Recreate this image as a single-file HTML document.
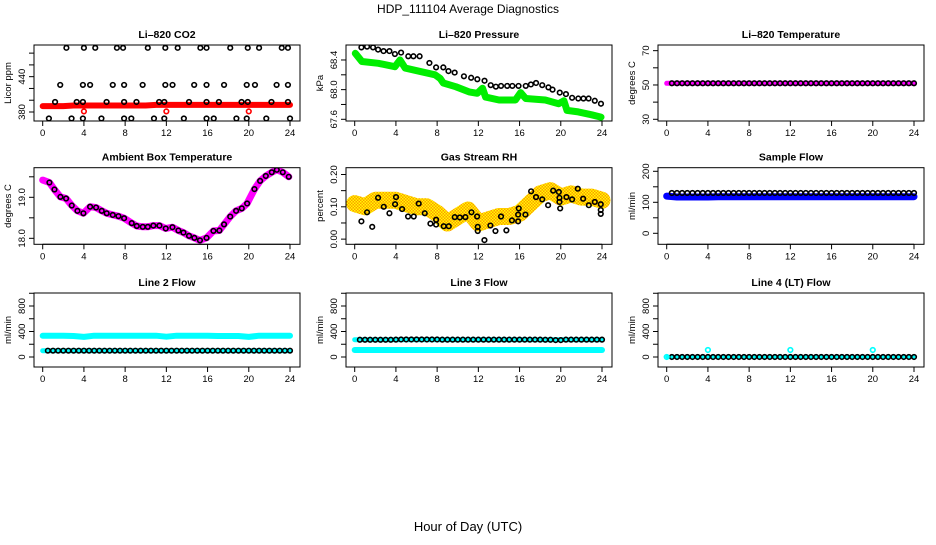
<!DOCTYPE html>
<html><head><meta charset="utf-8">
<style>
html,body{margin:0;padding:0;background:#fff;}
svg text{font-family:"Liberation Sans",Arial,sans-serif;}
</style></head>
<body>
<svg id="chart" xmlns="http://www.w3.org/2000/svg" width="936" height="540" viewBox="0 0 936 540">
<defs>
<pattern id="rhpat" width="3" height="3" patternUnits="userSpaceOnUse">
<rect width="3" height="3" fill="#ff9900"/>
<rect x="0" y="0" width="1.5" height="1.5" fill="#ffff00"/>
<rect x="1.5" y="1.5" width="1.5" height="1.5" fill="#ffff00"/>
</pattern>
</defs>
<text x="468" y="13" font-size="12" text-anchor="middle">HDP_111104  Average Diagnostics</text>
<text x="468" y="531" font-size="13" text-anchor="middle">Hour of Day (UTC)</text>
</svg>
<script>
// ---- data ----
const xTicks = [0,4,8,12,16,20,24];
const hourly = [0,1,2,3,4,5,6,7,8,9,10,11,12,13,14,15,16,17,18,19,20,21,22,23,24];
const halfHours = [0.5,1,1.5,2,2.5,3,3.5,4,4.5,5,5.5,6,6.5,7,7.5,8,8.5,9,9.5,10,10.5,11,11.5,12,12.5,13,13.5,14,14.5,15,15.5,16,16.5,17,17.5,18,18.5,19,19.5,20,20.5,21,21.5,22,22.5,23,23.5,24];

// CO2
const co2Red = [390,390,390,391,391,391,391,391,391,391,391,392,392,392,392,392,392,392,392,392,392,392,392,392,392];
const co2RedPtHours = [4,12,20];
const co2RedPtVals = [381,381,381];
const co2BlackHours = [2.3,4.0,5.1,7.2,7.8,10.2,11.9,13.1,15.3,15.9,18.2,19.9,21.0,23.2,23.8,
 1.7,3.9,4.6,6.8,7.9,9.7,11.9,12.6,14.7,15.9,17.6,19.8,20.6,22.7,23.8,
 1.2,3.3,3.9,6.2,7.9,9.1,11.3,11.8,14.2,15.9,17.1,19.3,19.9,22.2,23.8,
 0.6,2.8,3.9,5.7,7.9,8.6,10.8,11.8,13.7,15.9,16.6,18.8,19.8,21.7,24.0];
const co2BlackVals = [489,489,489,489,489,489,489,489,489,489,489,489,489,489,489,
 426,426,426,426,426,426,426,426,426,426,426,426,426,426,426,
 397,397,397,397,397,397,397,397,397,397,397,397,397,397,397,
 369,369,369,369,369,369,369,369,369,369,369,369,369,369,369];

// Pressure
const presGreenHours = [0.06,0.7,2.3,3.9,4.4,4.9,6.5,7.8,8.3,8.6,9.8,11.1,11.9,12.4,12.7,14.0,15.6,16.1,16.6,18.5,19.8,20.3,20.6,21.7,23.0,23.9];
const presGreenVals = [68.49,68.38,68.355,68.31,68.40,68.29,68.24,68.20,68.15,68.09,68.04,67.97,67.95,68.02,67.90,67.86,67.86,67.96,67.88,67.86,67.81,67.85,67.72,67.70,67.66,67.63];
const presBlackHours = [0.65,1.2,1.78,2.27,2.8,3.37,3.9,4.5,5.2,5.7,6.3,7.25,7.9,8.6,9.1,9.7,10.6,11.3,11.9,12.6,13.2,13.7,14.2,14.8,15.3,15.9,16.6,17.1,17.6,18.2,18.8,19.2,19.9,20.5,21.1,21.7,22.2,22.7,23.3,23.9];
const presBlackVals = [68.57,68.58,68.57,68.54,68.52,68.52,68.48,68.50,68.45,68.45,68.45,68.36,68.30,68.30,68.25,68.23,68.18,68.16,68.14,68.12,68.06,68.04,68.05,68.05,68.05,68.05,68.05,68.07,68.09,68.06,68.03,68.00,67.96,67.94,67.89,67.88,67.88,67.88,67.85,67.81];

// Li-820 temperature
const tempMagenta = [51,51,51,51,51,51,51,51,51,51,51,51,51,51,51,51,51,51,51,51,51,51,51,51,51];
const tempBlack = [51,51,51,51,51,51,51,51,51,51,51,51,51,51,51,51,51,51,51,51,51,51,51,51,51,51,51,51,51,51,51,51,51,51,51,51,51,51,51,51,51,51,51,51,51,51,51,51];

// Ambient box temperature
const ambHours = [0.65,1.14,1.72,2.27,2.82,3.37,3.95,4.6,5.18,5.73,6.21,6.8,7.35,7.9,8.64,9.13,9.71,10.2,10.74,11.33,11.94,12.59,13.17,13.66,14.2,14.72,15.26,15.9,16.57,17.15,17.6,18.2,18.77,19.32,19.84,20.55,21.1,21.65,22.23,22.72,23.3,23.88];
const ambVals = [19.36,19.19,19.01,18.97,18.80,18.67,18.61,18.77,18.75,18.67,18.61,18.57,18.54,18.49,18.37,18.30,18.28,18.28,18.31,18.31,18.24,18.27,18.19,18.14,18.06,18.01,17.95,18.01,18.18,18.19,18.34,18.53,18.67,18.73,18.85,19.20,19.40,19.52,19.61,19.67,19.61,19.50];
const ambBandHours = [0,0.65,1.14,1.72,2.27,2.82,3.37,3.95,4.6,5.18,5.73,6.21,6.8,7.35,7.9,8.64,9.13,9.71,10.2,10.74,11.33,11.94,12.59,13.17,13.66,14.2,14.72,15.26,15.9,16.57,17.15,17.6,18.2,18.77,19.32,19.84,20.55,21.1,21.65,22.23,22.72,23.3,23.88];
const ambBandVals = [19.42,19.36,19.19,19.01,18.97,18.80,18.67,18.61,18.77,18.75,18.67,18.61,18.57,18.54,18.49,18.37,18.30,18.28,18.28,18.31,18.31,18.24,18.27,18.19,18.14,18.06,18.01,17.95,18.01,18.18,18.19,18.34,18.53,18.67,18.73,18.85,19.20,19.40,19.52,19.61,19.67,19.61,19.50];

// Gas stream RH
const rhBand = [0.11,0.10,0.12,0.12,0.12,0.11,0.10,0.10,0.08,0.05,0.07,0.09,0.05,0.06,0.07,0.07,0.08,0.11,0.14,0.15,0.13,0.14,0.13,0.13,0.12];
const rhHours = [0.65,1.2,1.7,2.27,2.82,3.37,3.92,4.01,4.6,5.18,5.73,6.21,6.8,7.35,7.9,7.9,8.64,9.13,9.71,10.2,10.74,11.33,11.88,11.94,11.94,12.59,13.17,13.66,14.2,14.72,15.26,15.86,15.86,15.92,16.57,17.12,17.6,18.2,18.77,19.26,19.81,19.87,19.87,19.94,20.55,21.1,21.65,22.17,22.72,23.3,23.88,23.88,23.88];
const rhVals = [0.055,0.083,0.038,0.128,0.100,0.080,0.108,0.130,0.093,0.070,0.070,0.110,0.080,0.048,0.060,0.045,0.040,0.040,0.068,0.067,0.068,0.083,0.070,0.038,0.025,-0.003,0.042,0.025,0.070,0.027,0.058,0.076,0.055,0.095,0.076,0.148,0.130,0.123,0.105,0.150,0.146,0.128,0.115,0.095,0.130,0.123,0.156,0.125,0.105,0.115,0.108,0.078,0.090];

// Sample flow
const sampleBlue = [120,117,117,117,117,118,118,118,118,118,118,118,118,118,118,118,118,118,118,118,118,118,118,118,118];
const sampleBlack = [130,130,130,130,130,130,130,130,130,130,130,130,130,130,130,130,130,130,130,130,130,130,130,130,130,130,130,130,130,130,130,130,130,130,130,130,130,130,130,130,130,130,130,130,130,130,130,130];

// Line flows
const line2Cyan = [334,334,334,330,315,334,334,334,334,334,334,334,318,334,334,334,334,330,330,330,315,334,334,334,334];
const line2Black = [99,99,99,99,99,99,99,99,99,99,99,99,99,99,99,99,99,99,99,99,99,99,99,99,99,99,99,99,99,99,99,99,99,99,99,99,99,99,99,99,99,99,99,99,99,99,99,99];
const line3Cyan = [110,110,110,110,110,110,110,110,110,110,110,110,110,110,110,110,110,110,110,110,110,110,110,110,110];
const line3Black = [270,270,270,270,270,270,270,272,275,275,275,275,275,275,275,275,272,272,272,272,272,272,272,272,272,272,272,272,272,272,272,272,272,272,272,272,270,270,265,265,272,272,272,272,272,272,272,272];
const line4Cyan = [0,0,0,0,0,0,0,0,0,0,0,0,0,0,0,0,0,0,0,0,0,0,0,0,0];
const line4SpikeHours = [0,4,12,20];
const line4SpikeVals = [0,110,110,110];
const line4Black = [0,0,0,0,0,0,0,0,0,0,0,0,0,0,0,0,0,0,0,0,0,0,0,0,0,0,0,0,0,0,0,0,0,0,0,0,0,0,0,0,0,0,0,0,0,0,0,0];

// ---- drawing ----
const NS = "http://www.w3.org/2000/svg";
const svg = document.getElementById('chart');
const colL = [34,346,658], rowT = [45,167.7,293], rowB = [121,244.3,367];

function mk(tag, attrs, parent){
  const e = document.createElementNS(NS, tag);
  for (const k in attrs) e.setAttribute(k, attrs[k]);
  (parent||svg).appendChild(e);
  return e;
}

function panel(cfg){
  const L = colL[cfg.col], R = L+266, T = rowT[cfg.row], B = rowB[cfg.row];
  const g = mk('g', {});
  
  
  const [lo,hi] = cfg.ylim;
  const sx = h => L + 8.7 + h*(247.3/24);
  const sy = v => B - (v-lo)/(hi-lo)*(B-T);
  const t = mk('text', {x:(L+R)/2, y:T-7, 'font-size':10.5, 'font-weight':'bold', 'text-anchor':'middle'}, g);
  t.textContent = cfg.title;
  
  
  const xa = mk('g', {}, g);
  
  
  mk('line', {x1:sx(xTicks[0]), x2:sx(xTicks[xTicks.length-1]), y1:B, y2:B, stroke:'#000'}, xa);
  xTicks.forEach(v=>{
    mk('line', {x1:sx(v), x2:sx(v), y1:B, y2:B+5, stroke:'#000'}, xa);
    const tl = mk('text', {x:sx(v), y:B+15, 'font-size':9.5, 'text-anchor':'middle'}, xa);
    tl.textContent = v;
    
    
  });
  const ya = mk('g', {}, g);
  
  
  cfg.ticks.forEach(v=>{
    mk('line', {x1:L-5, x2:L, y1:sy(v), y2:sy(v), stroke:'#000'}, ya);
  });
  cfg.labels.forEach((v,i)=>{
    const yy = sy(v);
    const tl = mk('text', {x:L-9, y:yy, 'font-size':9.5, 'text-anchor':'middle', transform:`rotate(-90 ${L-9} ${yy})`}, ya);
    tl.textContent = cfg.labelText[i];
    
    
  });
  const yt = mk('text', {x:L-23, y:(T+B)/2, 'font-size':9.5, 'text-anchor':'middle', transform:`rotate(-90 ${L-23} ${(T+B)/2})`}, g);
  yt.textContent = cfg.ylab;
  
  
  const cid = 'clip'+cfg.col+cfg.row;
  const cp = mk('clipPath', {id:cid}, g);
  mk('rect', {x:L, y:T, width:R-L, height:B-T}, cp);
  const plot = mk('g', {'clip-path':`url(#${cid})`}, g);
  cfg.draw({plot, sx, sy});
  mk('rect', {x:L, y:T, width:R-L, height:B-T, fill:'none', stroke:'#000', 'stroke-width':1}, g);
}

function band(ctx, hs, vs, color, w, name){
  const pts = hs.map((h,i)=>ctx.sx(h).toFixed(1)+','+ctx.sy(vs[i]).toFixed(1)).join(' ');
  const p = mk('polyline', {points:pts, fill:'none', stroke:color, 'stroke-width':w, 'stroke-linejoin':'round', 'stroke-linecap':'round'}, ctx.plot);
  
  
}
function pts(ctx, hs, vs, color, name, r){
  const g = mk('g', {}, ctx.plot);
  
  
  hs.forEach((h,i)=>{
    const c = mk('circle', {cx:ctx.sx(h), cy:ctx.sy(vs[i]), r:r||2.3, fill:'none', stroke:color, 'stroke-width':1.6}, g);
    
    
  });
}

panel({name:'co2-panel', col:0, row:0, title:'Li\u2013820 CO2', ylab:'Licor ppm', ylim:[364.7,493.8],
  ticks:[380,400,420,440,460,480], labels:[380,440], labelText:['380','440'],
  draw:c=>{ band(c,hourly,co2Red,'#ff0000',6,'co2-red-band'); pts(c,co2RedPtHours,co2RedPtVals,'#ff0000','co2-red-points'); pts(c,co2BlackHours,co2BlackVals,'#000','co2-black-points'); }});
panel({name:'pressure-panel', col:1, row:0, title:'Li\u2013820 Pressure', ylab:'kPa', ylim:[67.577,68.602],
  ticks:[67.6,67.8,68.0,68.2,68.4], labels:[67.6,68.0,68.4], labelText:['67.6','68.0','68.4'],
  draw:c=>{ band(c,presGreenHours,presGreenVals,'#00ee00',7,'pressure-green-band'); pts(c,presBlackHours,presBlackVals,'#000','pressure-black-points'); }});
panel({name:'temperature-panel', col:2, row:0, title:'Li\u2013820 Temperature', ylab:'degrees C', ylim:[29.0,73.3],
  ticks:[30,40,50,60,70], labels:[30,50,70], labelText:['30','50','70'],
  draw:c=>{ band(c,hourly,tempMagenta,'#ff00ff',5,'temperature-magenta-band'); pts(c,halfHours,tempBlack,'#000','temperature-black-points'); }});
panel({name:'ambient-panel', col:0, row:1, title:'Ambient Box Temperature', ylab:'degrees C', ylim:[17.854,19.722],
  ticks:[18.0,18.5,19.0,19.5], labels:[18.0,19.0], labelText:['18.0','19.0'],
  draw:c=>{ band(c,ambBandHours,ambBandVals,'#ff00ff',7,'ambient-magenta-band'); pts(c,ambHours,ambVals,'#000','ambient-black-points'); }});
panel({name:'rh-panel', col:1, row:1, title:'Gas Stream RH', ylab:'percent', ylim:[-0.016,0.221],
  ticks:[0,0.05,0.10,0.15,0.20], labels:[0,0.10,0.20], labelText:['0.00','0.10','0.20'],
  draw:c=>{ band(c,hourly,rhBand,'url(#rhpat)',17,'rh-orange-band'); pts(c,rhHours,rhVals,'#000','rh-black-points'); }});
panel({name:'sample-flow-panel', col:2, row:1, title:'Sample Flow', ylab:'ml/min', ylim:[-35.5,211.6],
  ticks:[0,50,100,150,200], labels:[0,100,200], labelText:['0','100','200'],
  draw:c=>{ band(c,hourly,sampleBlue,'#0000ff',7,'sample-blue-band'); pts(c,halfHours,sampleBlack,'#000','sample-black-points'); }});
const flowCfg = {ylim:[-157,1004], ticks:[0,200,400,600,800,1000], labels:[0,400,800], labelText:['0','400','800'], ylab:'ml/min'};
panel(Object.assign({name:'line2-panel', col:0, row:2, title:'Line 2 Flow',
  draw:c=>{ band(c,hourly,line2Cyan,'#00ffff',6,'line2-cyan-band'); band(c,[0,24],[99,99],'#00ffff',5,'line2-cyan-low'); pts(c,halfHours,line2Black,'#000','line2-black-points'); }}, flowCfg));
panel(Object.assign({name:'line3-panel', col:1, row:2, title:'Line 3 Flow',
  draw:c=>{ band(c,hourly,line3Cyan,'#00ffff',6,'line3-cyan-band'); band(c,[0,24],[272,272],'#00ffff',5,'line3-cyan-high'); pts(c,halfHours,line3Black,'#000','line3-black-points'); }}, flowCfg));
panel(Object.assign({name:'line4-panel', col:2, row:2, title:'Line 4 (LT) Flow',
  draw:c=>{ band(c,hourly,line4Cyan,'#00ffff',3,'line4-cyan-band'); pts(c,halfHours,line4Black,'#000','line4-black-points'); pts(c,line4SpikeHours,line4SpikeVals,'#00ffff','line4-cyan-points'); }}, flowCfg));
</script>
</body></html>
